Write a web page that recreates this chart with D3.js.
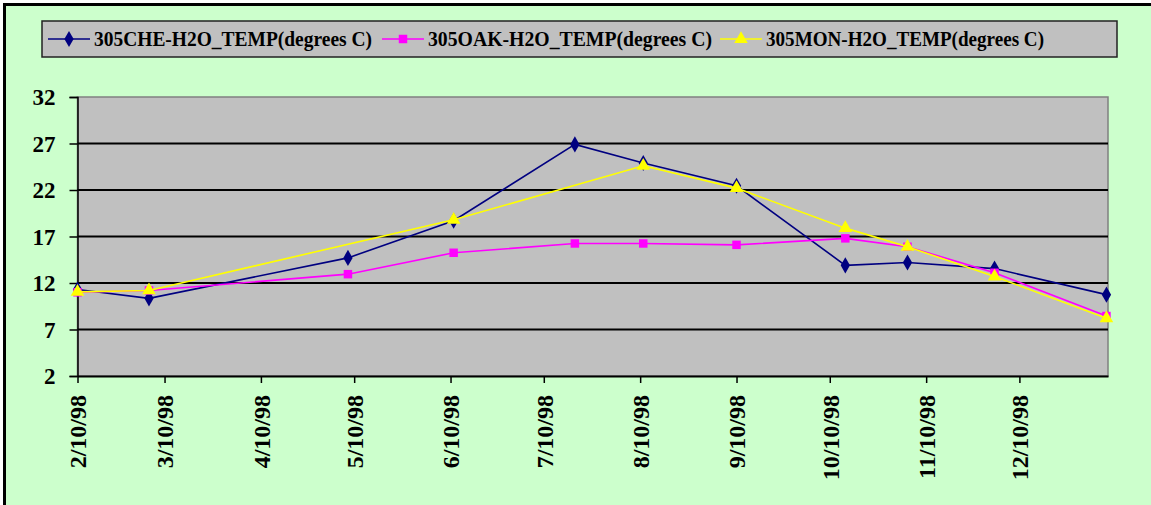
<!DOCTYPE html>
<html>
<head>
<meta charset="utf-8">
<script src="https://cdn.jsdelivr.net/npm/d3@7/dist/d3.min.js"></script>
<style>
  html, body { margin: 0; padding: 0; background: #fff; }
  svg { display: block; }
</style>
</head>
<body>
<div id="chart"></div>
<script>
// sample dates (m/d/yy in the original)
const dates = ['1998-02-10', '1998-03-05', '1998-05-08', '1998-06-11', '1998-07-20', '1998-08-11',
  '1998-09-10', '1998-10-15', '1998-11-04', '1998-12-02', '1999-01-07'];
const cheTemp = [11.3, 10.35, 14.7, 18.7, 26.9, 24.9, 22.45, 13.9, 14.2, 13.55, 10.75];
const oakTemp = [11.0, 11.2, 12.95, 15.25, 16.25, 16.25, 16.1, 16.8, 15.9, 13.1, 8.45];
const monTemp = [11.05, 11.2, null, 18.8, null, 24.6, 22.2, 17.9, 15.9, 12.7, 8.2];
const seriesNames = ['305CHE-H2O_TEMP(degrees C)', '305OAK-H2O_TEMP(degrees C)', '305MON-H2O_TEMP(degrees C)'];
const yTicks = [2, 7, 12, 17, 22, 27, 32];

const width = 1151, height = 505;
const parse = s => { const [y, m, d] = s.split('-').map(Number); return new Date(Date.UTC(y, m - 1, d)); };

const series = [
  { name: seriesNames[0], values: cheTemp, color: '#000080', symbol: d3.symbolDiamond, size: 75 },
  { name: seriesNames[1], values: oakTemp, color: '#ff00ff', symbol: d3.symbolSquare, size: 72 },
  { name: seriesNames[2], values: monTemp, color: '#ffff00', symbol: d3.symbolTriangle, size: 80 },
];

const svg = d3.select('#chart').append('svg')
  .attr('width', width)
  .attr('height', height);

// background + frame
svg.append('rect').attr('x', 3).attr('y', 3).attr('width', width).attr('height', height).attr('fill', '#ccffcc');
svg.append('line').attr('x1', 4.5).attr('x2', 4.5).attr('y1', 3).attr('y2', height).attr('stroke', '#000').attr('stroke-width', 3);
svg.append('line').attr('x1', 3).attr('x2', width).attr('y1', 4.5).attr('y2', 4.5).attr('stroke', '#000').attr('stroke-width', 3);

const plot = { left: 77.5, right: 1108, top: 97, bottom: 376 };

const x = d3.scaleUtc()
  .domain([parse('1998-02-10'), new Date(Date.UTC(1999, 0, 7, 12))])
  .range([plot.left, plot.right]);
const y = d3.scaleLinear().domain([2, 32]).range([plot.bottom, plot.top]);

// plot area
svg.append('rect')
  .attr('x', plot.left).attr('y', plot.top)
  .attr('width', plot.right - plot.left).attr('height', plot.bottom - plot.top)
  .attr('fill', '#c0c0c0').attr('stroke', '#808080').attr('stroke-width', 1.5);

// gridlines
svg.append('g')
  .selectAll('line')
  .data(yTicks.filter(t => t > 2 && t < 32))
  .join('line')
  .attr('x1', plot.left).attr('x2', plot.right)
  .attr('y1', d => y(d)).attr('y2', d => y(d))
  .attr('stroke', '#000').attr('stroke-width', 2);

// y axis
const yAxis = svg.append('g')
  .attr('transform', `translate(${plot.left},0)`)
  .call(d3.axisLeft(y).tickValues(yTicks).tickSize(8).tickPadding(14));
yAxis.select('.domain').attr('stroke', '#000').attr('stroke-width', 1.5);
yAxis.selectAll('.tick line').attr('stroke', '#000').attr('stroke-width', 1.5);
yAxis.selectAll('.tick text')
  .attr('font-family', '"Liberation Serif", "Times New Roman", serif')
  .attr('font-weight', 'bold')
  .attr('font-size', 23)
  .attr('fill', '#000')
  .attr('dy', '0.34em');

// x axis: tick on the 10th of each month
const xTicks = d3.utcMonth.range(parse('1998-02-01'), parse('1999-01-01'))
  .map(d => d3.utcDay.offset(d, 9));
const fmt = d => `${d.getUTCMonth() + 1}/${d.getUTCDate()}/${String(d.getUTCFullYear()).slice(2)}`;
const xAxis = svg.append('g')
  .attr('transform', `translate(0,${plot.bottom})`)
  .call(d3.axisBottom(x).tickValues(xTicks).tickFormat(fmt).tickSize(7).tickSizeOuter(0));
xAxis.select('.domain').attr('stroke', '#000').attr('stroke-width', 2);
xAxis.selectAll('.tick line').attr('stroke', '#000').attr('stroke-width', 1.5);
xAxis.selectAll('.tick text')
  .attr('font-family', '"Liberation Serif", "Times New Roman", serif')
  .attr('font-weight', 'bold')
  .attr('font-size', 24)
  .attr('fill', '#000')
  .attr('text-anchor', 'end')
  .attr('transform', 'rotate(-90)')
  .attr('x', -19)
  .attr('y', 0)
  .attr('dy', '0.35em');

// series
const line = d3.line()
  .x(d => x(d.date))
  .y(d => y(d.value));

series.forEach(s => {
  const pts = dates.map((dt, i) => ({ date: parse(dt), value: s.values[i] })).filter(p => p.value != null);
  const g = svg.append('g');
  g.append('path')
    .datum(pts)
    .attr('d', line)
    .attr('fill', 'none')
    .attr('stroke', s.color)
    .attr('stroke-width', 1.6);
  g.selectAll('path.pt')
    .data(pts)
    .join('path')
    .attr('class', 'pt')
    .attr('d', d3.symbol(s.symbol, s.size))
    .attr('transform', d => `translate(${x(d.date)},${y(d.value)})`)
    .attr('fill', s.color);
});

// legend
const legend = svg.append('g');
legend.append('rect')
  .attr('x', 42).attr('y', 21).attr('width', 1075).attr('height', 36)
  .attr('fill', '#c0c0c0').attr('stroke', '#222').attr('stroke-width', 1.5);
const legendX = [48, 382, 720];
const textLen = [278, 284, 278];
series.forEach((s, i) => {
  const lx = legendX[i];
  legend.append('line')
    .attr('x1', lx).attr('x2', lx + 42).attr('y1', 39).attr('y2', 39)
    .attr('stroke', s.color).attr('stroke-width', 1.6);
  legend.append('path')
    .attr('d', d3.symbol(s.symbol, s.size))
    .attr('transform', `translate(${lx + 21},39)`)
    .attr('fill', s.color);
  legend.append('text')
    .attr('x', lx + 46).attr('y', 46)
    .attr('font-family', '"Liberation Serif", "Times New Roman", serif')
    .attr('font-weight', 'bold')
    .attr('font-size', 22)
    .attr('textLength', textLen[i])
    .attr('lengthAdjust', 'spacingAndGlyphs')
    .attr('fill', '#000')
    .text(s.name);
});
</script>
</body>
</html>
